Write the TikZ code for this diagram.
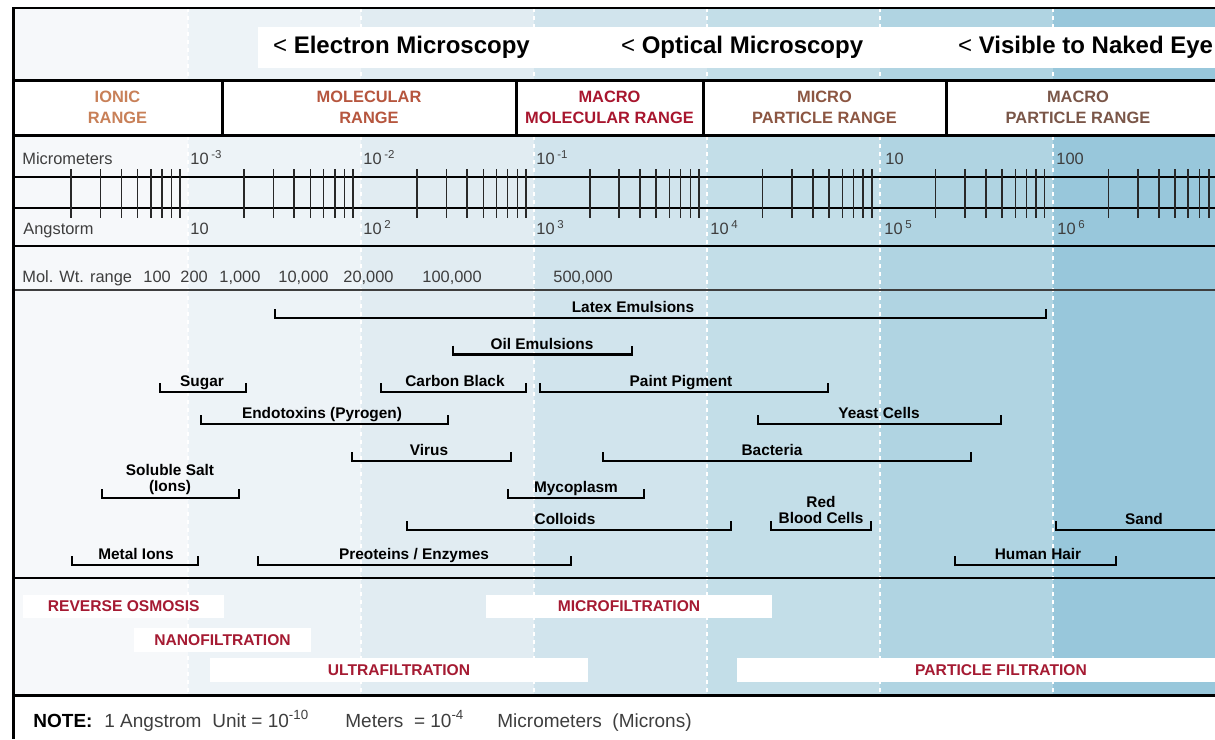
\documentclass[tikz,border=0pt]{standalone}
\usepackage{fontspec}
\setmainfont{Liberation Sans}
\usepackage{tikz}
\usetikzlibrary{positioning,calc}

\definecolor{colA}{RGB}{246,248,250}
\definecolor{colB}{RGB}{237,243,247}
\definecolor{colC}{RGB}{225,236,242}
\definecolor{colD}{RGB}{209,228,237}
\definecolor{colE}{RGB}{195,222,232}
\definecolor{colF}{RGB}{176,212,226}
\definecolor{colG}{RGB}{152,199,219}
\definecolor{ionic}{RGB}{200,128,88}
\definecolor{molec}{RGB}{182,86,62}
\definecolor{macromol}{RGB}{168,22,46}
\definecolor{micropart}{RGB}{140,86,66}
\definecolor{macropart}{RGB}{122,86,72}
\definecolor{filtred}{RGB}{165,26,50}
\definecolor{txtgray}{RGB}{62,62,62}
\definecolor{tickgray}{RGB}{40,40,40}

\begin{document}
\begin{tikzpicture}[x=0.5pt,y=-0.5pt,
    hdr/.style={anchor=west,font=\fontsize{12}{14}\selectfont\bfseries},
    rangelbl/.style={align=center,font=\fontsize{8.2}{10.5}\selectfont\bfseries},
    scl/.style={anchor=base west,inner sep=0pt,font=\fontsize{8.2}{10}\selectfont,text=txtgray},
    item/.style={anchor=base,inner sep=0pt,align=center,font=\fontsize{7.7}{8.3}\selectfont\bfseries},
    bar/.style={line width=1.4pt},
    filt/.style={fill=white,inner sep=0pt,minimum height=11.75pt,font=\fontsize{7.8}{9}\selectfont\bfseries,text=filtred},
    tick/.style={line width=0.75pt,draw=tickgray},
    heavy/.style={line width=1.5pt},
    grid/.style={white,line width=0.75pt,dash pattern=on 2pt off 2pt}]

\useasboundingbox (0,0) rectangle (1215,739);
\clip (0,0) rectangle (1215,739);

% size columns
\fill[colA] (13,8) rectangle (188,695);
\fill[colB] (188,8) rectangle (361,695);
\fill[colC] (361,8) rectangle (534,695);
\fill[colD] (534,8) rectangle (707,695);
\fill[colE] (707,8) rectangle (880,695);
\fill[colF] (880,8) rectangle (1053,695);
\fill[colG] (1053,8) rectangle (1215,695);
\foreach \x in {188,361,534,707,880,1053}
    \draw[grid] (\x,8) -- (\x,695);

% microscopy header
\fill[white] (258,27) rectangle (1215,68);
\node[hdr] (em) at (266,47.5) {{\mdseries <} Electron Microscopy};
\node[hdr] (om) at (614,47.5) {{\mdseries <} Optical Microscopy};
\node[hdr] (eye) at (951,47.5) {{\mdseries <} Visible to Naked Eye};

% size ranges
\fill[white] (13,80) rectangle (1215,135);
\draw[heavy] (13,80) -- (1215,80);
\draw[heavy] (13,135) -- (1215,135);
\foreach \x in {222,516,703,946}
    \draw[heavy] (\x,80) -- (\x,135);
\node[rangelbl,text=ionic] (ionic) at (117.5,107.5) {IONIC\\RANGE};
\node[rangelbl,text=molec] (molec) at (369,107.5) {MOLECULAR\\RANGE};
\node[rangelbl,text=macromol] (macromol) at (609.5,107.5) {MACRO\\MOLECULAR RANGE};
\node[rangelbl,text=micropart] (micropart) at (824.5,107.5) {MICRO\\PARTICLE RANGE};
\node[rangelbl,text=macropart] (macropart) at (1078,107.5) {MACRO\\PARTICLE RANGE};

% scale
\draw[line width=0.7pt] (13,177) -- (1215,177);
\draw[line width=0.7pt] (13,208) -- (1215,208);
\foreach \d in {0,...,6}
    \foreach \k in {2,...,9}
        \draw[tick] ({20.8+172.9*\d+167*log10(\k)},169) -- ++(0,49);
\draw[line width=0.8pt] (13,246) -- (1215,246);
\draw[line width=0.6pt,draw=txtgray] (13,290) -- (1215,290);

\node[scl] (um) at (22,164) {Micrometers};
\node[scl] (um3) at (190,164) {10\,\textsuperscript{-3}};
\node[scl] (um2) at (363,164) {10\,\textsuperscript{-2}};
\node[scl] (um1) at (536,164) {10\,\textsuperscript{-1}};
\node[scl] (um10) at (885,164) {10};
\node[scl] (um100) at (1056,164) {100};

\node[scl] (ang) at (23,234) {Angstorm};
\node[scl] (an1) at (190,234) {10};
\node[scl] (an2) at (363,234) {10\,\textsuperscript{2}};
\node[scl] (an3) at (536,234) {10\,\textsuperscript{3}};
\node[scl] (an4) at (710,234) {10\,\textsuperscript{4}};
\node[scl] (an5) at (884,234) {10\,\textsuperscript{5}};
\node[scl] (an6) at (1057,234) {10\,\textsuperscript{6}};

% molecular weight
\node[scl] (mw) at (22,282) {Mol. Wt. range};
\node[scl] (mw1) at (143,282) {100};
\node[scl] (mw2) at (180,282) {200};
\node[scl] (mw3) at (219,282) {1,000};
\node[scl] (mw4) at (278,282) {10,000};
\node[scl] (mw5) at (343,282) {20,000};
\node[scl] (mw6) at (422,282) {100,000};
\node[scl] (mw7) at (553,282) {500,000};

% particles
\node[item] (latex) at (633,312.5) {Latex Emulsions};
\draw[bar] (275,309) -- (275,318) -- (1046,318) -- (1046,309);
\node[item] (oil) at (542,349) {Oil Emulsions};
\draw[bar] (453,345.5) -- (453,354.5) -- (632,354.5) -- (632,345.5);
\node[item] (sugar) at (202,386.5) {Sugar};
\draw[bar] (160,383) -- (160,392) -- (246,392) -- (246,383);
\node[item] (carbon) at (455,386.5) {Carbon Black};
\draw[bar] (381,383) -- (381,392) -- (526,392) -- (526,383);
\node[item] (paint) at (681,386.5) {Paint Pigment};
\draw[bar] (540,383) -- (540,392) -- (828,392) -- (828,383);
\node[item] (endo) at (322,418.5) {Endotoxins (Pyrogen)};
\draw[bar] (201,415) -- (201,424) -- (448,424) -- (448,415);
\node[item] (yeast) at (879,418.5) {Yeast Cells};
\draw[bar] (758,415) -- (758,424) -- (1001,424) -- (1001,415);
\node[item] (virus) at (429,455.5) {Virus};
\draw[bar] (352,452) -- (352,461) -- (511,461) -- (511,452);
\node[item] (bact) at (772,455.5) {Bacteria};
\draw[bar] (603,452) -- (603,461) -- (971,461) -- (971,452);
\node[item,anchor=south] (salt) at (170,495.5) {Soluble Salt\\(Ions)};
\draw[bar] (102,489) -- (102,498) -- (239,498) -- (239,489);
\node[item] (myco) at (576,492.5) {Mycoplasm};
\draw[bar] (508,489) -- (508,498) -- (644,498) -- (644,489);
\node[item] (coll) at (565,524.5) {Colloids};
\draw[bar] (407,521) -- (407,530) -- (731,530) -- (731,521);
\node[item,anchor=south] (rbc) at (821,524.5) {Red\\Blood Cells};
\draw[bar] (771,521) -- (771,530) -- (871,530) -- (871,521);
\node[item] (sand) at (1144,524.5) {Sand};
\draw[bar] (1056,521) -- (1056,530) -- (1220,530);
\node[item] (metal) at (136,559.5) {Metal Ions};
\draw[bar] (72,556) -- (72,565) -- (198,565) -- (198,556);
\node[item] (prot) at (414,559.5) {Preoteins / Enzymes};
\draw[bar] (258,556) -- (258,565) -- (571,565) -- (571,556);
\node[item] (hair) at (1038,559.5) {Human Hair};
\draw[bar] (955,556) -- (955,565) -- (1116,565) -- (1116,556);

% filtration
\draw[line width=1.1pt] (13,578) -- (1215,578);
\node[filt,minimum width=100.5pt] (ro) at (123.75,606.5) {REVERSE OSMOSIS};
\node[filt,minimum width=88.5pt] (nf) at (222.5,640) {NANOFILTRATION};
\node[filt,minimum width=189pt] (uf) at (399,670) {ULTRAFILTRATION};
\node[filt,minimum width=143pt] (mf) at (629,606.5) {MICROFILTRATION};
\node[filt,minimum width=264.5pt] (pf) at (1001,670) {PARTICLE FILTRATION};

% note
\fill[white] (13,695) rectangle (1215,739);
\draw[heavy] (13,695) -- (1215,695);
\node[scl,text=black,font=\fontsize{9.5}{11}\selectfont\bfseries] (note) at (33,727) {NOTE:};
\node[scl,font=\fontsize{9.5}{11}\selectfont] (n1) at (104,727) {1 Angstrom};
\node[scl,font=\fontsize{9.5}{11}\selectfont] (n2) at (212,727) {Unit = 10\textsuperscript{-10}};
\node[scl,font=\fontsize{9.5}{11}\selectfont] (n3) at (345,727) {Meters\ \ = 10\textsuperscript{-4}};
\node[scl,font=\fontsize{9.5}{11}\selectfont] (n4) at (497,727) {Micrometers\ \ (Microns)};

% frame
\draw[line width=1.25pt] (12,8) -- (1215,8);
\draw[line width=1.5pt] (13,7.4) -- (13,739);

\end{tikzpicture}
\end{document}
